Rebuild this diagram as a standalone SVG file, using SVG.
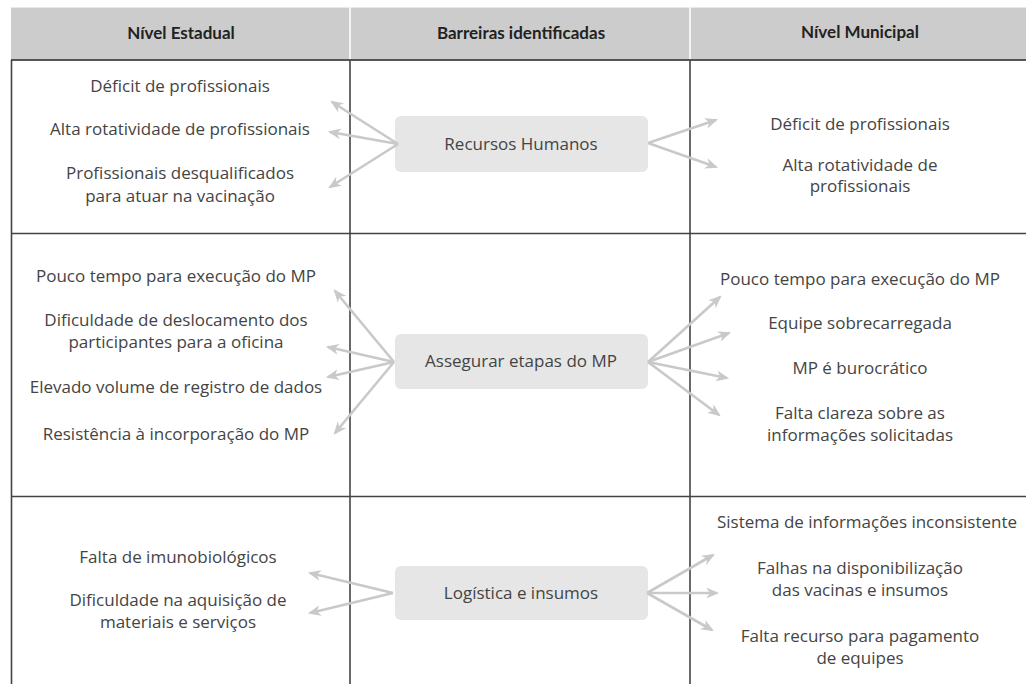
<svg xmlns="http://www.w3.org/2000/svg" width="1026" height="684" viewBox="0 0 1026 684">
<style>
.hdr{font-family:"Lato","Liberation Sans",sans-serif;font-weight:bold;font-size:17px;fill:#222;text-anchor:middle}
.t{font-family:"Open Sans","Liberation Sans",sans-serif;font-size:17px;fill:#444;text-anchor:middle}
.box{fill:#e6e6e6}
.grid{stroke:#444;stroke-width:1.6;fill:none}
.arr{stroke:#c9c9c9;stroke-width:2.6;fill:none;marker-end:url(#ah)}
</style>
<defs>
<marker id="ah" viewBox="0 0 12 10" refX="10" refY="5" markerWidth="5" markerHeight="4.2" orient="auto" markerUnits="strokeWidth">
<path d="M0,0 L12,5 L0,10 L3.5,5 z" fill="#c9c9c9"/>
</marker>
</defs>
<rect width="1026" height="684" fill="#fff"/>
<g id="header">
<rect x="11" y="7" width="1015" height="53" fill="#cccccc"/>
<line x1="11" y1="7.5" x2="1026" y2="7.5" stroke="#e8e8e8" stroke-width="1"/>
<rect x="349" y="7" width="2" height="53" fill="#f4f4f4"/>
<rect x="689" y="7" width="2" height="53" fill="#f4f4f4"/>
<text class="hdr" x="181" y="39">Nível Estadual</text>
<text class="hdr" x="521" y="39">Barreiras identificadas</text>
<text class="hdr" x="860" y="38">Nível Municipal</text>
</g>
<g id="grid">
<line x1="11" y1="60" x2="1026" y2="60" stroke="#555" stroke-width="2"/>
<line class="grid" x1="11.5" y1="60" x2="11.5" y2="684"/>
<line class="grid" x1="350" y1="60" x2="350" y2="684"/>
<line class="grid" x1="690" y1="60" x2="690" y2="684"/>
<line class="grid" x1="11" y1="233.5" x2="1026" y2="233.5"/>
<line class="grid" x1="11" y1="496.5" x2="1026" y2="496.5"/>
</g>
<g id="row1-estadual">
<text class="t" x="180" y="92">Déficit de profissionais</text>
<text class="t" x="180" y="135">Alta rotatividade de profissionais</text>
<text class="t" x="180" y="179">Profissionais desqualificados</text>
<text class="t" x="180" y="202">para atuar na vacinação</text>
</g>
<g id="node-recursos">
<rect class="box" x="395" y="116" width="253" height="56" rx="6"/>
<text class="t" x="521" y="150">Recursos Humanos</text>
</g>
<g id="row1-municipal">
<text class="t" x="860" y="130">Déficit de profissionais</text>
<text class="t" x="860" y="171">Alta rotatividade de</text>
<text class="t" x="860" y="192">profissionais</text>
</g>
<g id="row2-estadual">
<text class="t" x="176" y="282">Pouco tempo para execução do MP</text>
<text class="t" x="176" y="326">Dificuldade de deslocamento dos</text>
<text class="t" x="176" y="348">participantes para a oficina</text>
<text class="t" x="176" y="393">Elevado volume de registro de dados</text>
<text class="t" x="176" y="440">Resistência à incorporação do MP</text>
</g>
<g id="node-assegurar">
<rect class="box" x="395" y="334" width="253" height="55" rx="6"/>
<text class="t" x="521" y="367">Assegurar etapas do MP</text>
</g>
<g id="row2-municipal">
<text class="t" x="860" y="285">Pouco tempo para execução do MP</text>
<text class="t" x="860" y="329">Equipe sobrecarregada</text>
<text class="t" x="860" y="374">MP é burocrático</text>
<text class="t" x="860" y="419">Falta clareza sobre as</text>
<text class="t" x="860" y="441">informações solicitadas</text>
</g>
<g id="row3-estadual">
<text class="t" x="178" y="563">Falta de imunobiológicos</text>
<text class="t" x="178" y="606">Dificuldade na aquisição de</text>
<text class="t" x="178" y="628">materiais e serviços</text>
</g>
<g id="node-logistica">
<rect class="box" x="395" y="566" width="253" height="54" rx="6"/>
<text class="t" x="521" y="599">Logística e insumos</text>
</g>
<g id="row3-municipal">
<text class="t" x="867" y="528" textLength="300" lengthAdjust="spacingAndGlyphs">Sistema de informações inconsistente</text>
<text class="t" x="860" y="574">Falhas na disponibilização</text>
<text class="t" x="860" y="596">das vacinas e insumos</text>
<text class="t" x="860" y="642">Falta recurso para pagamento</text>
<text class="t" x="860" y="664">de equipes</text>
</g>
<g id="connectors">
<line class="arr" x1="398" y1="144" x2="332" y2="102"/>
<line class="arr" x1="398" y1="144" x2="330" y2="132"/>
<line class="arr" x1="398" y1="144" x2="330" y2="187"/>
<line class="arr" x1="648" y1="143" x2="716" y2="120"/>
<line class="arr" x1="648" y1="143" x2="716" y2="167"/>
<line class="arr" x1="394" y1="362" x2="335" y2="291"/>
<line class="arr" x1="394" y1="362" x2="328" y2="347"/>
<line class="arr" x1="394" y1="362" x2="328" y2="377"/>
<line class="arr" x1="394" y1="362" x2="335" y2="433"/>
<line class="arr" x1="648" y1="362" x2="720" y2="297"/>
<line class="arr" x1="648" y1="362" x2="729" y2="333"/>
<line class="arr" x1="648" y1="362" x2="727" y2="378"/>
<line class="arr" x1="648" y1="362" x2="719" y2="415"/>
<line class="arr" x1="393" y1="593" x2="310" y2="573"/>
<line class="arr" x1="393" y1="593" x2="310" y2="613"/>
<line class="arr" x1="647" y1="593" x2="713" y2="555"/>
<line class="arr" x1="647" y1="593" x2="717" y2="593"/>
<line class="arr" x1="647" y1="593" x2="712" y2="630"/>
</g>
</svg>
